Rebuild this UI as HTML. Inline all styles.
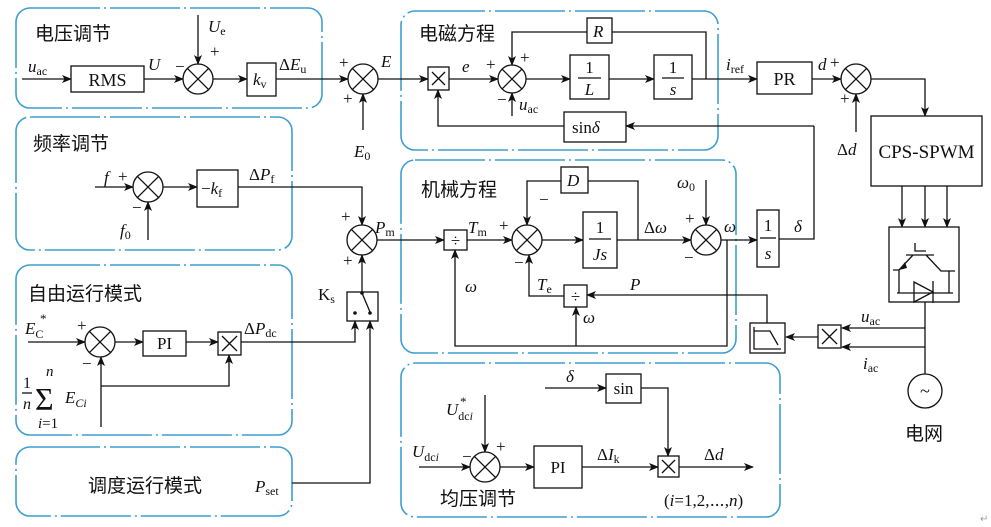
<!DOCTYPE html>
<html><head><meta charset="utf-8"><style>
html,body{margin:0;padding:0;background:#fff;}
svg{display:block;}
text{font-family:"Liberation Serif","Noto Serif CJK SC",serif;font-size:17px;fill:#111;}
.i{font-style:italic;}
.s{font-size:12px;font-style:normal;}
.cn{font-family:"Liberation Sans","Noto Sans CJK SC",sans-serif;font-size:19px;}
.p{fill:none;stroke:#3d9fcf;stroke-width:1.6;stroke-dasharray:70 4 2 4;}
.l{fill:none;stroke:#111;stroke-width:1.3;}
.a{fill:none;stroke:#111;stroke-width:1.3;marker-end:url(#ar);}
.b{fill:#fff;stroke:#111;stroke-width:1.3;}
</style></head><body>
<svg width="991" height="527" viewBox="0 0 991 527" xmlns="http://www.w3.org/2000/svg">
<defs><marker id="ar" markerWidth="10" markerHeight="8" refX="9" refY="4" orient="auto" markerUnits="userSpaceOnUse"><path d="M0,0 L10,4 L0,8 L2.5,4 Z" fill="#111"/></marker></defs>

<rect class="p" x="16" y="8" width="306" height="100" rx="14"/>
<rect class="p" x="16" y="117" width="276" height="133" rx="14"/>
<rect class="p" x="16" y="265" width="276" height="170" rx="14"/>
<rect class="p" x="16" y="447" width="276" height="69" rx="14"/>
<rect class="p" x="401" y="11" width="317" height="139" rx="14"/>
<rect class="p" x="401" y="160" width="335" height="193" rx="14"/>
<rect class="p" x="401" y="363" width="379" height="154" rx="14"/>

<text class="cn" x="35" y="40">电压调节</text>
<text class="cn" x="33" y="150">频率调节</text>
<text class="cn" x="28" y="300">自由运行模式</text>
<text class="cn" x="88" y="492">调度运行模式</text>
<text class="cn" x="419" y="40">电磁方程</text>
<text class="cn" x="421" y="196">机械方程</text>
<text class="cn" x="440" y="505">均压调节</text>
<text class="cn" x="905" y="440">电网</text>

<path class="a" d="M22 79 H71"/>
<text class="i" x="28" y="72">u<tspan class="s" dy="3">ac</tspan></text>
<rect class="b" x="71" y="66" width="73" height="26"/>
<text x="107.5" y="86" text-anchor="middle" style="font-size:18px">RMS</text>
<path class="a" d="M144 79 H183"/>
<text class="i" x="148" y="70">U</text>
<text x="175" y="72">−</text>
<circle class="b" cx="198" cy="79" r="15"/><path class="l" d="M187.4 68.4 L208.6 89.6 M208.6 68.4 L187.4 89.6"/>
<path class="a" d="M198 15 V64"/>
<text class="i" x="208" y="32">U<tspan class="s" dy="3">e</tspan></text>
<text x="210" y="57">+</text>
<path class="a" d="M213 79 H247"/>
<rect class="b" x="247" y="63" width="29" height="33"/>
<text class="i" x="253" y="85">k<tspan class="s" dy="3">v</tspan></text>
<text x="279" y="70">Δ<tspan class="i">E</tspan><tspan class="s" dy="3">u</tspan></text>
<path class="a" d="M276 79 H348"/>
<text x="339" y="68">+</text><text x="343" y="104">+</text>
<circle class="b" cx="363" cy="79" r="15"/><path class="l" d="M352.4 68.4 L373.6 89.6 M373.6 68.4 L352.4 89.6"/>
<path class="a" d="M363 130 V94"/>
<text class="i" x="354" y="157">E<tspan class="s" dy="3">0</tspan></text>
<text class="i" x="381" y="67">E</text>
<path class="a" d="M378 79 H428"/>

<rect class="b" x="428" y="67" width="21" height="23"/><path class="l" d="M432 72 L445 85 M445 72 L432 85"/>
<text class="i" x="462" y="72">e</text>
<path class="a" d="M449 79 H498"/>
<text x="486" y="70">+</text>
<circle class="b" cx="512" cy="79" r="14"/><path class="l" d="M502.1 69.1 L521.9 88.9 M521.9 69.1 L502.1 88.9"/>
<path class="a" d="M512 116 V93"/>
<text class="i" x="519" y="110">u<tspan class="s" dy="3">ac</tspan></text>
<text x="497" y="105">−</text>
<path class="l" d="M706 79 V32 H612"/>
<rect class="b" x="587" y="18" width="25" height="25"/>
<text class="i" x="593" y="37">R</text>
<path class="a" d="M587 32 H512 V65"/>
<text x="520" y="63">+</text>
<path class="a" d="M526 79 H570"/>
<rect class="b" x="570" y="55" width="39" height="44"/>
<text x="589.5" y="73" text-anchor="middle">1</text><path class="l" d="M578 78 H601"/><text class="i" x="589.5" y="95" text-anchor="middle">L</text>
<path class="a" d="M609 79 H654"/>
<rect class="b" x="654" y="55" width="38" height="44"/>
<text x="673" y="73" text-anchor="middle">1</text><path class="l" d="M662 78 H684"/><text class="i" x="673" y="95" text-anchor="middle">s</text>
<path class="a" d="M692 79 H757"/>
<text class="i" x="726" y="70">i<tspan class="s" dy="3">ref</tspan></text>
<rect class="b" x="757" y="62" width="55" height="32"/>
<text x="784.5" y="85" text-anchor="middle" style="font-size:18px">PR</text>
<path class="a" d="M812 79 H841"/>
<text class="i" x="818" y="70">d</text><text x="830" y="68">+</text>
<circle class="b" cx="856" cy="79" r="15"/><path class="l" d="M845.4 68.4 L866.6 89.6 M866.6 68.4 L845.4 89.6"/>
<path class="a" d="M856 132 V94"/>
<text x="840" y="104">+</text>
<text x="837" y="155">Δ<tspan class="i">d</tspan></text>
<path class="a" d="M871 79 H925 V116"/>
<rect class="b" x="871" y="116" width="111" height="70"/>
<text x="926.5" y="158" text-anchor="middle" style="font-size:19px">CPS-SPWM</text>
<path class="a" d="M902 186 V227"/><path class="a" d="M925 186 V227"/><path class="a" d="M947 186 V227"/>
<rect class="b" x="889" y="227" width="70" height="75"/>
<path class="l" d="M915 243 V251 H926 M906 255 H934 M913 255 L899 270 H893 M926 255 L941 271 H955 M899 270 V293 M949 271 V293 M897 293 H953 M914 282 V302 L933 292 Z M933 281 V303"/>
<path d="M899 270 L905 262 L907 268 Z" fill="#111"/>
<path class="l" d="M925 302 V374"/>
<circle class="b" cx="925" cy="391" r="17"/>
<text x="925" y="397" text-anchor="middle" style="font-size:18px">~</text>
<path class="a" d="M925 328 H842"/><path class="a" d="M925 347 H842"/>
<text class="i" x="861" y="322">u<tspan class="s" dy="3">ac</tspan></text>
<text class="i" x="863" y="369">i<tspan class="s" dy="3">ac</tspan></text>
<rect class="b" x="818" y="325" width="23" height="23"/><path class="l" d="M822 329 L837 344 M837 329 L822 344"/>
<path class="a" d="M818 337 H786"/>
<rect class="b" x="750" y="323" width="35" height="30"/>
<path class="l" d="M754 327 V349 H781 M754 331 H770 L778 345"/>
<path class="a" d="M767 323 V295 H587"/>
<text class="i" x="630" y="290">P</text>
<path class="l" d="M779 239 H814 V126"/>
<path class="a" d="M814 126 H626"/>
<rect class="b" x="564" y="112" width="62" height="30"/>
<text x="572" y="133">sin<tspan class="i">δ</tspan></text>
<path class="a" d="M564 126 H438 V90"/>

<text class="i" x="104" y="183">f</text><text x="118" y="182">+</text>
<path class="a" d="M95 187 H133"/>
<circle class="b" cx="148" cy="187" r="15"/><path class="l" d="M137.4 176.4 L158.6 197.6 M158.6 176.4 L137.4 197.6"/>
<path class="a" d="M148 240 V202"/>
<text class="i" x="120" y="236">f<tspan class="s" dy="3">0</tspan></text>
<text x="132" y="213">−</text>
<path class="a" d="M163 187 H197"/>
<rect class="b" x="197" y="170" width="41" height="37"/>
<text x="201" y="194">−<tspan class="i">k</tspan><tspan class="s" dy="3">f</tspan></text>
<text x="249" y="180">Δ<tspan class="i">P</tspan><tspan class="s" dy="3">f</tspan></text>
<path class="a" d="M238 187 H362 V225"/>
<text x="341" y="222">+</text>
<circle class="b" cx="362" cy="240" r="15"/><path class="l" d="M351.4 229.4 L372.6 250.6 M372.6 229.4 L351.4 250.6"/>
<text class="i" x="375" y="233">P<tspan class="s" dy="3">m</tspan></text>
<text x="343" y="266">+</text>
<path class="a" d="M377 240 H444"/>

<rect class="b" x="444" y="230" width="23" height="20"/><text x="455.5" y="246" text-anchor="middle">÷</text>
<text class="i" x="468" y="233">T<tspan class="s" dy="3">m</tspan></text>
<path class="a" d="M467 240 H512"/>
<text x="499" y="231">+</text>
<circle class="b" cx="527" cy="240" r="15"/><path class="l" d="M516.4 229.4 L537.6 250.6 M537.6 229.4 L516.4 250.6"/>
<path class="l" d="M638 240 V181 H588"/>
<rect class="b" x="561" y="167" width="27" height="26"/>
<text class="i" x="567" y="186">D</text>
<path class="a" d="M561 181 H527 V225"/>
<text x="539" y="205">−</text>
<path class="a" d="M542 240 H583"/>
<rect class="b" x="583" y="212" width="34" height="56"/>
<text x="600" y="233" text-anchor="middle">1</text><path class="l" d="M589 239 H611"/><text class="i" x="600" y="260" text-anchor="middle">Js</text>
<path class="a" d="M617 240 H691"/>
<text x="644" y="233">Δ<tspan class="i">ω</tspan></text>
<circle class="b" cx="706" cy="240" r="15"/><path class="l" d="M695.4 229.4 L716.6 250.6 M716.6 229.4 L695.4 250.6"/>
<path class="a" d="M706 180 V225"/>
<text class="i" x="677" y="188">ω<tspan class="s" dy="3">0</tspan></text>
<text x="685" y="224">+</text><text x="684" y="263">−</text>
<path class="a" d="M721 240 H757"/>
<text class="i" x="724" y="232">ω</text>
<rect class="b" x="757" y="210" width="22" height="57"/>
<text x="768" y="231" text-anchor="middle">1</text><path class="l" d="M760 238 H776"/><text class="i" x="768" y="259" text-anchor="middle">s</text>
<text class="i" x="794" y="232">δ</text>
<path class="a" d="M727 240 V346 H455 V250"/>
<path class="a" d="M576 346 V307"/>
<text class="i" x="465" y="292">ω</text>
<text class="i" x="583" y="323">ω</text>
<rect class="b" x="564" y="285" width="23" height="22"/><text x="575.5" y="302" text-anchor="middle">÷</text>
<path class="a" d="M564 296 H529 V255"/>
<text class="i" x="537" y="290">T<tspan class="s" dy="3">e</tspan></text>
<text x="514" y="268">−</text>

<text x="318" y="300">K<tspan class="s" dy="3">s</tspan></text>
<rect class="b" x="347" y="292" width="31" height="29"/>
<path class="a" d="M362 293 V255"/>
<path class="l" d="M362 293 L370 312"/>
<circle cx="362" cy="293" r="1.8" fill="#111"/><circle cx="355" cy="313" r="1.8" fill="#111"/><circle cx="370" cy="313" r="1.8" fill="#111"/>
<path class="a" d="M241 342 H355 V321"/>
<text x="244" y="334">Δ<tspan class="i">P</tspan><tspan class="s" dy="3">dc</tspan></text>
<path class="a" d="M292 483 H370 V321"/>
<text class="i" x="255" y="492">P<tspan class="s" dy="3">set</tspan></text>
<text class="i" x="25" y="334">E<tspan class="s" dy="4">C</tspan></text><text x="40" y="323" style="font-size:13px">*</text>
<path class="a" d="M28 342 H85"/>
<text x="77" y="331">+</text>
<circle class="b" cx="100" cy="342" r="15"/><path class="l" d="M89.4 331.4 L110.6 352.6 M110.6 331.4 L89.4 352.6"/>
<text x="82" y="369">−</text>
<path class="a" d="M115 342 H143"/>
<rect class="b" x="143" y="331" width="43" height="25"/>
<text x="164.5" y="349" text-anchor="middle">PI</text>
<path class="a" d="M186 342 H218"/>
<rect class="b" x="218" y="332" width="23" height="23"/><path class="l" d="M222 336 L237 351 M237 336 L222 351"/>
<path class="a" d="M101 427 V357"/>
<path class="a" d="M101 386 H229 V355"/>
<text x="23" y="388" style="font-size:16px">1</text><path class="l" d="M22 393 H32"/><text class="i" x="23" y="409" style="font-size:16px">n</text>
<text x="35" y="410" style="font-size:32px">Σ</text>
<text class="i" x="46" y="376" style="font-size:15px">n</text>
<text class="i" x="38" y="428" style="font-size:15px">i<tspan style="font-style:normal">=1</tspan></text>
<text class="i" x="65" y="403">E<tspan class="s" dy="4" style="font-style:italic">Ci</tspan></text>

<text class="i" x="566" y="382">δ</text>
<path class="a" d="M545 388 H606"/>
<rect class="b" x="606" y="374" width="35" height="29"/>
<text x="623.5" y="394" text-anchor="middle">sin</text>
<path class="a" d="M641 388 H668 V456"/>
<rect class="b" x="658" y="456" width="21" height="21"/><path class="l" d="M662 460 L675 473 M675 460 L662 473"/>
<text class="i" x="446" y="415">U<tspan class="s" dy="5">dc<tspan style="font-style:italic">i</tspan></tspan></text><text x="460" y="406" style="font-size:13px">*</text>
<path class="a" d="M485 395 V452"/>
<text x="496" y="452">+</text>
<text class="i" x="412" y="457">U<tspan class="s" dy="4">dc<tspan style="font-style:italic">i</tspan></tspan></text>
<text x="462" y="462">−</text>
<path class="a" d="M419 467 H470"/>
<circle class="b" cx="485" cy="467" r="15"/><path class="l" d="M474.4 456.4 L495.6 477.6 M495.6 456.4 L474.4 477.6"/>
<path class="a" d="M500 467 H534"/>
<rect class="b" x="534" y="446" width="48" height="42"/>
<text x="558" y="473" text-anchor="middle">PI</text>
<path class="a" d="M582 467 H658"/>
<text x="597" y="460">Δ<tspan class="i">I</tspan><tspan class="s" dy="3">k</tspan></text>
<path class="a" d="M679 467 H753"/>
<text x="704" y="460">Δ<tspan class="i">d</tspan></text>
<text x="664" y="506">(<tspan class="i">i</tspan>=1,2,⋯,<tspan class="i">n</tspan>)</text>
<text x="980" y="522" style="font-size:10px;fill:#999">↵</text>
</svg>
</body></html>
